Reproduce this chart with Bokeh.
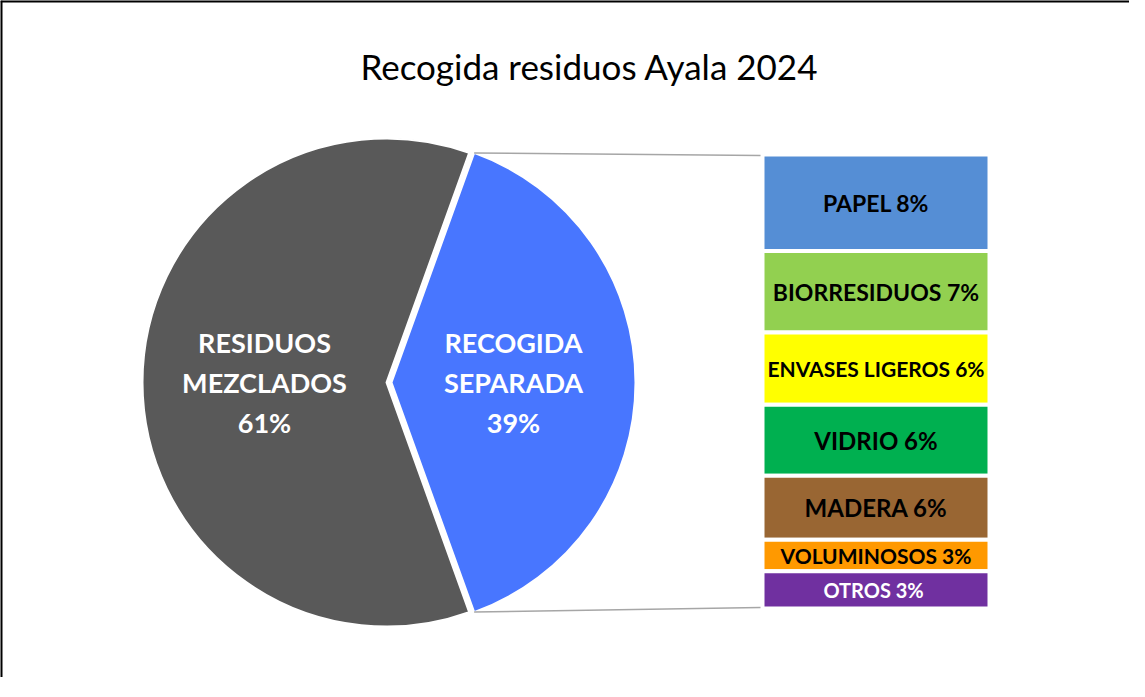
import numpy as np
from bokeh.plotting import figure
from bokeh.models import ColumnDataSource, Range1d, Span
from bokeh.core.properties import value
from bokeh.embed import file_html
from bokeh.resources import INLINE

# ---------------- data ----------------
title_text = "Recogida residuos Ayala 2024"

pie_names = ["RESIDUOS\nMEZCLADOS", "RECOGIDA\nSEPARADA"]
pie_values = [61.0, 39.0]
pie_colors = ["#595959", "#4876FF"]

bar_names = ["PAPEL", "BIORRESIDUOS", "ENVASES LIGEROS", "VIDRIO", "MADERA", "VOLUMINOSOS", "OTROS "]
bar_values = [8.3, 7.0, 6.2, 6.1, 5.5, 2.7, 3.2]
bar_colors = ["#558ED5", "#92D050", "#FFFF00", "#00B050", "#996633", "#FF9900", "#7030A0"]
bar_text_colors = ["black", "black", "black", "black", "black", "black", "white"]

# ---------------- layout / styles ----------------
W, H = 1129, 677
FONT = "Lato"
pie_cx, pie_cy, pie_r, explode = 386, 295, 244, 5
bar_left, bar_right = 762, 989
bar_top_px, bar_bottom_px = 523, 69
bar_font_sizes = ["23px", "23px", "21px", "24px", "24px", "21px", "20px"]

p = figure(width=W, height=H, x_range=Range1d(0, W), y_range=Range1d(0, H),
           output_backend="svg", toolbar_location=None, min_border=0,
           x_axis_location=None, y_axis_location=None)
p.grid.visible = False
p.outline_line_color = None
p.background_fill_color = "white"
p.border_fill_color = "white"

# frame border (top and left visible in the picture)
p.add_layout(Span(location=H - 0.5, dimension="width", line_color="black", line_width=3))
p.add_layout(Span(location=0.5, dimension="height", line_color="black", line_width=3))

# title
p.text(x=[589], y=[612], text=[title_text], text_font=value(FONT), text_font_size="35px",
       text_color="black", text_align="center", text_baseline="middle")

# ---------------- pie ----------------
vals = np.array(pie_values)
frac = vals / vals.sum()
half = np.pi * frac[1]
starts = [half, half + 2 * np.pi * frac[0]]
ends = [starts[0] + 2 * np.pi * frac[0], starts[1] + 2 * np.pi * frac[1]]
mids = [(s + e) / 2 for s, e in zip(starts, ends)]
offs = [0, explode]
cxs = [pie_cx + o * np.cos(m) for o, m in zip(offs, mids)]
cys = [pie_cy + o * np.sin(m) for o, m in zip(offs, mids)]

pie_src = ColumnDataSource(dict(x=cxs, y=cys, start=starts, end=ends, color=pie_colors))
p.wedge(x="x", y="y", radius=pie_r, start_angle="start", end_angle="end",
        fill_color="color", line_color="white", line_width=2, source=pie_src)

lab_x = [cx + 0.5 * pie_r * np.cos(m) for cx, m in zip(cxs, mids)]
lab_y = [cy + 0.5 * pie_r * np.sin(m) for cy, m in zip(cys, mids)]
lab_t = [f"{n}\n{round(v)}%" for n, v in zip(pie_names, pie_values)]
p.text(x=lab_x, y=lab_y, text=lab_t, text_font=value(FONT), text_font_size="27px",
       text_font_style="bold", text_color="white", text_align="center",
       text_baseline="middle", text_line_height=1.2)

# ---------------- bar of pie ----------------
total = float(np.sum(bar_values))
scale = (bar_top_px - bar_bottom_px) / total
p.extra_y_ranges = {"bar": Range1d(-bar_bottom_px / scale, total + (H - bar_top_px) / scale)}
cum = np.concatenate([[0], np.cumsum(bar_values)])
tops = total - cum[:-1]
bottoms = total - cum[1:]
bar_src = ColumnDataSource(dict(top=tops, bottom=bottoms, color=bar_colors,
                                mid=(tops + bottoms) / 2,
                                label=[f"{n} {round(v)}%" for n, v in zip(bar_names, bar_values)],
                                tcolor=bar_text_colors, fsize=bar_font_sizes))
p.quad(left=bar_left, right=bar_right, top="top", bottom="bottom", fill_color="color",
       line_color="white", line_width=4, source=bar_src, y_range_name="bar")
p.text(x=(bar_left + bar_right) / 2, y="mid", text="label", text_color="tcolor",
       text_font=value(FONT), text_font_size="fsize", text_font_style="bold",
       text_align="center", text_baseline="middle", source=bar_src, y_range_name="bar")

# connector lines from the separated slice to the bar
a_top, a_bot = ends[1], starts[1]
p.line(x=[cxs[1] + pie_r * np.cos(a_top), bar_left - 2],
       y=[cys[1] + pie_r * np.sin(a_top), bar_top_px - 1],
       line_color="#A6A6A6", line_width=1.5)
p.line(x=[cxs[1] + pie_r * np.cos(a_bot), bar_left - 2],
       y=[cys[1] + pie_r * np.sin(a_bot), bar_bottom_px + 1],
       line_color="#A6A6A6", line_width=1.5)

open("out.html", "w").write(file_html(p, INLINE))
